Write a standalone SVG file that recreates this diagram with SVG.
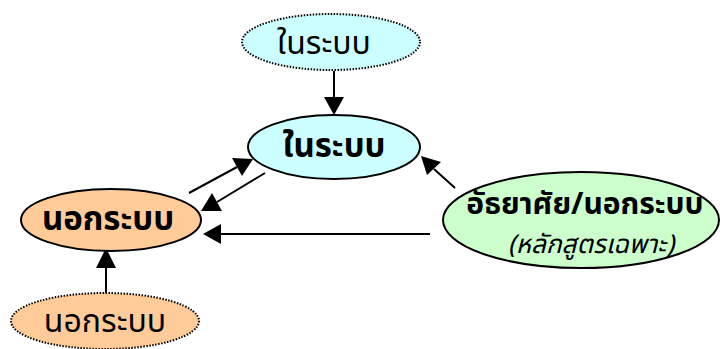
<svg xmlns="http://www.w3.org/2000/svg" width="720" height="349" viewBox="0 0 720 349">
<defs>
<style>
.t{font-family:"Noto Sans Thai","DejaVu Sans","Noto Sans",sans-serif;fill:#000;text-anchor:middle;dominant-baseline:central}
.n{font-size:32px}
.b{font-weight:bold}
.i{font-size:26px;font-style:italic}
.solid{stroke:#000;stroke-width:2}
.dot{stroke:#000;stroke-width:2;stroke-dasharray:1.5 1.5}
.cy{fill:#CCFFFF}
.or{fill:#FFCC99}
.gr{fill:#CCFFCC}
.c{stroke:#000;stroke-width:2;fill:none}
</style>
</defs>
<g id="connectors">
<line class="c" x1="334" y1="71" x2="334" y2="97"/><path d="M324,97 L344,97 L334,115 z"/>
<line class="c" x1="189" y1="193" x2="237" y2="167"/><path d="M253,159 L232,158 L242,176 z"/>
<line class="c" x1="265" y1="173" x2="217" y2="202"/><path d="M201,211 L212,193 L222,211 z"/>
<line class="c" x1="455" y1="188" x2="434" y2="169"/><path d="M421,156 L427,175 L441,162 z"/>
<line class="c" x1="430" y1="234" x2="221" y2="234"/><path d="M203,234 L221,224 L221,244 z"/>
<line class="c" x1="106" y1="297" x2="106" y2="266"/><path d="M106,248 L96,268 L116,268 z"/>
</g>
<g id="node-top">
<ellipse class="cy dot" cx="331" cy="42" rx="89" ry="28"/>
<text class="t n" x="324" y="44">ในระบบ</text>
</g>
<g id="node-mid">
<ellipse class="cy solid" cx="334" cy="147" rx="86" ry="32"/>
<text class="t b" x="334" y="147" font-size="33">ในระบบ</text>
</g>
<g id="node-left">
<ellipse class="or solid" cx="111" cy="220" rx="90" ry="31"/>
<text class="t b" x="108" y="220" font-size="33">นอกระบบ</text>
</g>
<g id="node-bottom">
<ellipse class="or dot" cx="105" cy="321" rx="94" ry="28"/>
<text class="t n" x="105" y="322" font-size="31">นอกระบบ</text>
</g>
<g id="node-right">
<ellipse class="gr solid" cx="581" cy="220" rx="138" ry="48"/>
<text class="t b" x="585" y="205" font-size="30">อัธยาศัย/นอกระบบ</text>
<text class="t i" x="591" y="245" font-size="27">(หลักสูตรเฉพาะ)</text>
</g>
</svg>
